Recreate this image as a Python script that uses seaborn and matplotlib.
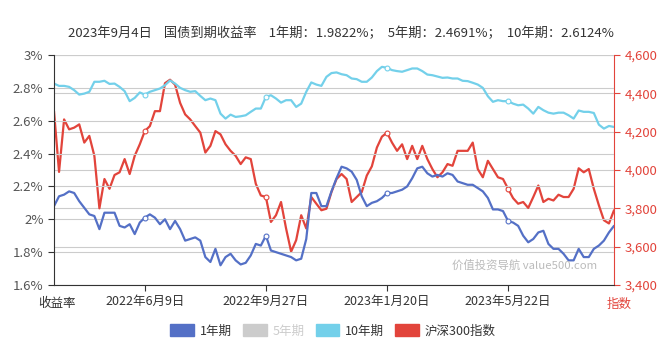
import matplotlib
matplotlib.use("Agg")
import matplotlib.pyplot as plt
import seaborn as sns
import pandas as pd
from matplotlib.patches import Patch
from matplotlib.ticker import FuncFormatter

# 国债到期收益率 (%), 沪深300指数, sampled roughly every 3 trading days
yield_1y = [2.08, 2.14, 2.15, 2.17, 2.16, 2.11, 2.07, 2.03, 2.02, 1.94,
            2.04, 2.04, 2.04, 1.96, 1.95, 1.97, 1.91, 1.98, 2.01, 2.03,
            2.01, 1.97, 2.00, 1.94, 1.99, 1.94, 1.87, 1.88, 1.89, 1.87,
            1.77, 1.74, 1.82, 1.72, 1.77, 1.79, 1.75, 1.725, 1.735, 1.78,
            1.85, 1.84, 1.90, 1.81, 1.80, 1.79, 1.78, 1.77, 1.75, 1.76,
            1.88, 2.16, 2.16, 2.08, 2.08, 2.17, 2.25, 2.32, 2.31, 2.29,
            2.24, 2.14, 2.08, 2.10, 2.11, 2.13, 2.16, 2.16, 2.17, 2.18,
            2.20, 2.25, 2.31, 2.32, 2.28, 2.26, 2.27, 2.26, 2.28, 2.27,
            2.23, 2.22, 2.21, 2.21, 2.19, 2.17, 2.13, 2.06, 2.06, 2.05,
            1.99, 1.98, 1.96, 1.90, 1.86, 1.88, 1.92, 1.93, 1.85, 1.82,
            1.82, 1.79, 1.75, 1.75, 1.82, 1.77, 1.77, 1.82, 1.84, 1.87,
            1.92, 1.96]
yield_10y = [2.826, 2.812, 2.812, 2.806, 2.786, 2.759, 2.765, 2.776, 2.837, 2.837,
             2.843, 2.824, 2.826, 2.806, 2.78, 2.719, 2.739, 2.772, 2.759, 2.776,
             2.786, 2.796, 2.816, 2.845, 2.826, 2.80, 2.786, 2.776, 2.78, 2.751,
             2.725, 2.735, 2.725, 2.643, 2.613, 2.637, 2.623, 2.627, 2.633, 2.654,
             2.674, 2.674, 2.745, 2.755, 2.735, 2.71, 2.725, 2.725, 2.684, 2.704,
             2.776, 2.833, 2.82, 2.812, 2.867, 2.89, 2.894, 2.883, 2.877, 2.857,
             2.853, 2.837, 2.837, 2.863, 2.902, 2.928, 2.922, 2.908, 2.902, 2.898,
             2.908, 2.918, 2.918, 2.902, 2.881, 2.877, 2.869, 2.861, 2.863, 2.857,
             2.857, 2.843, 2.841, 2.831, 2.82, 2.80, 2.749, 2.715, 2.725, 2.719,
             2.719, 2.704, 2.694, 2.698, 2.674, 2.643, 2.684, 2.664, 2.649, 2.643,
             2.649, 2.649, 2.633, 2.613, 2.662, 2.654, 2.654, 2.647, 2.576, 2.552,
             2.568, 2.562]
csi300 = [4307, 3990, 4264, 4212, 4221, 4238, 4143, 4178, 4074, 3800,
          3953, 3902, 3974, 3988, 4057, 3979, 4074, 4134, 4203, 4229,
          4307, 4307, 4453, 4471, 4445, 4350, 4290, 4264, 4229, 4195,
          4091, 4126, 4203, 4186, 4134, 4100, 4074, 4031, 4066, 4057,
          3928, 3867, 3859, 3729, 3764, 3833, 3695, 3574, 3634, 3764,
          3695, 3859, 3824, 3790, 3798, 3885, 3953, 3979, 3953, 3833,
          3859, 3885, 3971, 4019, 4117, 4174, 4195, 4143, 4100, 4134,
          4057, 4126, 4057, 4126, 4057, 4005, 3962, 3988, 4031, 4022,
          4100, 4100, 4100, 4143, 4005, 3962, 4048, 4005, 3962, 3953,
          3902, 3853, 3824, 3833, 3802, 3859, 3919, 3833, 3850, 3841,
          3871, 3859, 3859, 3902, 4009, 3988, 4005, 3902, 3816, 3738,
          3721, 3790]
tick_idx = [18, 42, 66, 90]
tick_labels = ["2022年6月9日", "2022年9月27日", "2023年1月20日", "2023年5月22日"]
left_ticks = [1.6, 1.8, 2.0, 2.2, 2.4, 2.6, 2.8, 3.0]
right_ticks = [3400, 3600, 3800, 4000, 4200, 4400, 4600]

df = pd.DataFrame({"idx": range(len(csi300)), "y1": yield_1y,
                   "y10": yield_10y, "hs300": csi300})

c_1y = "#5470c6"
c_5y = "#cccccc"
c_10y = "#73d0ea"
c_hs = "#e2443b"

sns.set_style("white")
plt.rcParams["font.family"] = ["Noto Sans CJK SC", "DejaVu Sans"]

fig = plt.figure(figsize=(6.65, 3.54), dpi=100)
ax = fig.add_axes([54 / 665, 1 - 285 / 354, 560 / 665, 230 / 354])
ax2 = ax.twinx()

mk = dict(marker="o", markevery=tick_idx, markersize=3.5, mfc="white", mew=0.8)
sns.lineplot(data=df, x="idx", y="y10", ax=ax, color=c_10y, lw=1.6, mec=c_10y, **mk)
sns.lineplot(data=df, x="idx", y="y1", ax=ax, color=c_1y, lw=1.6, mec=c_1y, **mk)
sns.lineplot(data=df, x="idx", y="hs300", ax=ax2, color=c_hs, lw=1.6, mec=c_hs, **mk)

ax.set_xlim(0, len(csi300) - 1)
ax.set_ylim(1.6, 3.0)
ax2.set_ylim(3400, 4600)
ax.set_yticks(left_ticks)
ax2.set_yticks(right_ticks)
ax.yaxis.set_major_formatter(FuncFormatter(lambda v, p: f"{v:g}%"))
ax2.yaxis.set_major_formatter(FuncFormatter(lambda v, p: f"{int(v):,}"))
ax.set_xticks(tick_idx)
ax.set_xticklabels(tick_labels)
ax.set_xlabel("")
ax.set_ylabel("")
ax2.set_ylabel("")

ax.grid(axis="y", color="#cccccc", lw=0.8)
ax2.grid(axis="y", color="#cccccc", lw=0.8)
ax.set_axisbelow(True)
ax2.set_axisbelow(True)
ax.set_zorder(ax2.get_zorder() + 1)
ax.patch.set_visible(False)

for s in ["top", "right"]:
    ax.spines[s].set_visible(False)
ax2.spines["top"].set_visible(False)
ax2.spines["left"].set_visible(False)
ax2.spines["bottom"].set_visible(False)
ax.spines["left"].set_color("#333333")
ax.spines["bottom"].set_color("#333333")
ax2.spines["right"].set_color(c_hs)

ax.tick_params(axis="y", colors="#333333", labelcolor="#555555", labelsize=9.5,
               length=4, width=0.8, direction="out", left=True)
ax.tick_params(axis="x", colors="#333333", labelcolor="#333333", labelsize=9,
               length=4, width=0.8, direction="out", bottom=True)
ax2.tick_params(axis="y", colors=c_hs, labelcolor=c_hs, labelsize=9.5,
                length=4, width=0.8, direction="out", right=True)

fig.text(341 / 665, 1 - 33 / 354,
         "2023年9月4日    国债到期收益率    1年期：1.9822%；  5年期：2.4691%；  10年期：2.6124%",
         ha="center", va="center", fontsize=9.5, color="#333333")
fig.text(57 / 665, 1 - 304 / 354, "收益率", ha="center", va="center", fontsize=9, color="#333333")
fig.text(619 / 665, 1 - 304 / 354, "指数", ha="center", va="center", fontsize=9, color=c_hs)
fig.text(525 / 665, 1 - 265 / 354, "价值投资导航 value500.com", ha="center", va="center",
         fontsize=8.2, color="#bbbbbb")

handles = [Patch(facecolor=c, edgecolor=c) for c in [c_1y, c_5y, c_10y, c_hs]]
leg = fig.legend(handles, ["1年期", "5年期", "10年期", "沪深300指数"], loc="center",
                 bbox_to_anchor=(333 / 665, 1 - 331 / 354), ncol=4, frameon=False,
                 fontsize=9, handlelength=1.9, handleheight=1.1, columnspacing=0.9,
                 handletextpad=0.45)
for t, c in zip(leg.get_texts(), ["#333333", "#cccccc", "#333333", "#333333"]):
    t.set_color(c)

fig.savefig("out.png", dpi=100)
